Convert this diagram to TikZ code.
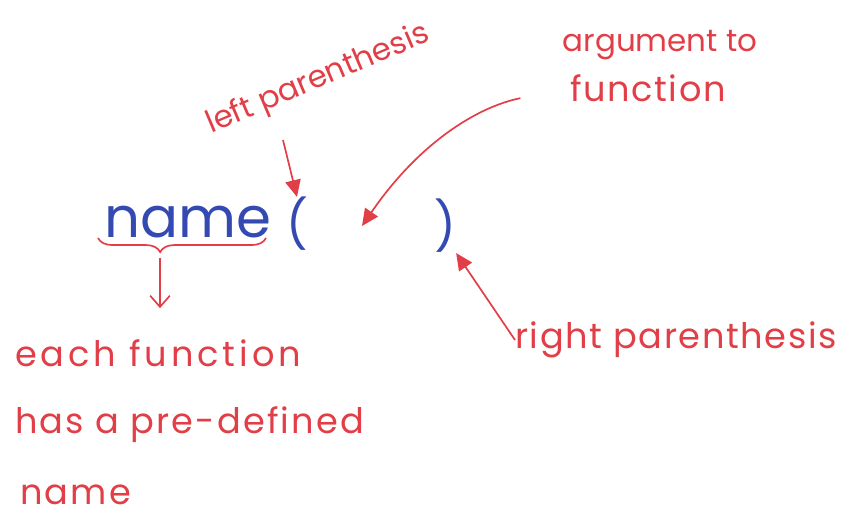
\documentclass[tikz,border=0pt]{standalone}
\usepackage{fontspec}
\setmainfont{Poppins}
\usetikzlibrary{decorations.pathreplacing,arrows.meta}
\definecolor{pen}{RGB}{226,62,72}
\definecolor{ink}{RGB}{52,74,178}

\begin{document}
\begin{tikzpicture}[x=0.025cm,y=-0.025cm,
    note/.style={text=pen,inner sep=0pt,
        font=\fontsize{25}{25}\selectfont\addfontfeature{LetterSpace=#1}},
    note/.default=0,
    code/.style={text=ink,font=\fontsize{40}{40}\selectfont,inner sep=0pt},
    pointer/.style={draw=pen,line width=1.2pt,-{Triangle[length=12pt,width=11pt]}}]
    \useasboundingbox (0,0) rectangle (841,516);
    % the call
    \node[code] (fname) at (188,222) {name};
    \node[code,font=\fontsize{34}{34}\selectfont] (lparen) at (297,224) {(};
    \node[code,font=\fontsize{34}{34}\selectfont] (rparen) at (445,226) {)};
    \coordinate (arg) at (362,226);
    % labels
    \node[note,rotate=23,font=\fontsize{22}{22}\selectfont] (lefttxt) at (318,80) {left parenthesis};
    \node[note=-7,font=\fontsize{22}{22}\selectfont] (argtxt) at (660,45) {argument to};
    \node[note=4.5,anchor=west] (fntxt) at (570,88) {function};
    \node[note=4.5,anchor=west] (righttxt) at (515,340) {right parenthesis};
    \node[note=11,anchor=west] (eachtxt) at (15,353) {each function};
    \node[note=6,anchor=west] (hastxt) at (15,425) {has a pre-defined};
    \node[note=6,anchor=west] (nametxt) at (20,495) {name};
    % arrows
    \coordinate (lstart) at (283,140);
    \draw[pointer] (lstart) -- (lparen.north);
    \draw[pointer,shorten <=36pt] (fntxt.west) to[bend right=22] (arg);
    \draw[pointer] (righttxt.west) -- (rparen.south east);
    \draw[pen,line width=1.2pt,decorate,
        decoration={brace,mirror,amplitude=10pt,aspect=0.37}] (98,238) -- (266,238);
    \coordinate (bracetip) at (160,258);
    \draw[pen,line width=1.2pt,-{Straight Barb[length=8pt,width=14pt]},shorten >=22pt]
        (bracetip) -- (bracetip |- eachtxt.north);
\end{tikzpicture}
\end{document}
